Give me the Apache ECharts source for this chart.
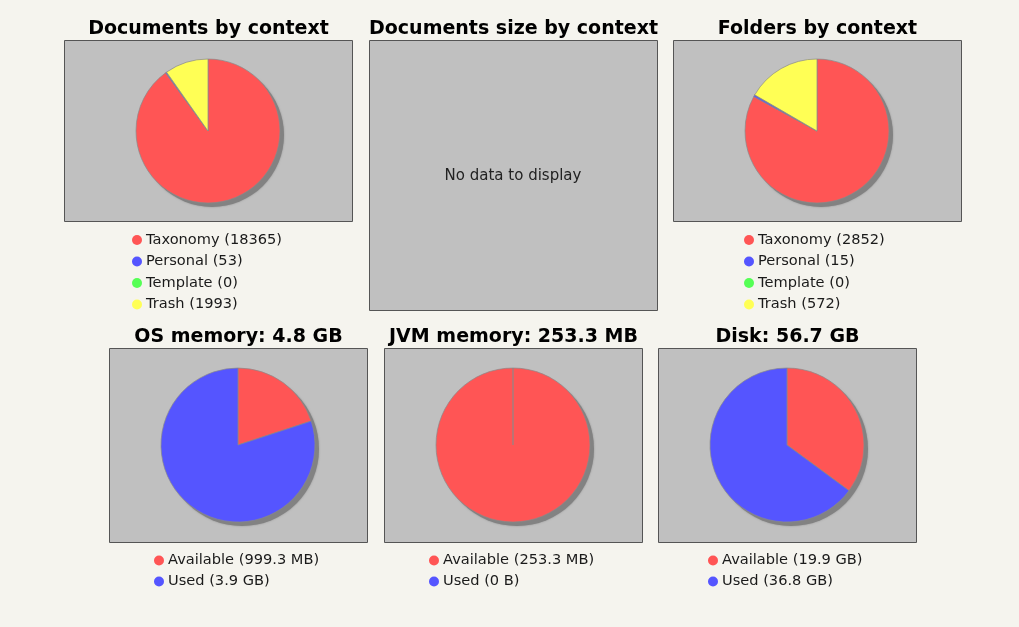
<!DOCTYPE html>
<html>
<head>
<meta charset="utf-8">
<title>Repository statistics</title>
<script src="https://cdn.jsdelivr.net/npm/echarts@6/dist/echarts.min.js"></script>
<style>
  html, body { margin: 0; padding: 0; background: #f5f4ee; }
  #chart { width: 1019px; height: 627px; }
</style>
</head>
<body>
<div id="chart"></div>
<script>
// Content statistics per context
const contextNames = ['Taxonomy', 'Personal', 'Template', 'Trash'];
const documentsByContext = [18365, 53, 0, 1993];
const documentsSizeByContext = [];            // nothing recorded
const foldersByContext = [2852, 15, 0, 572];

// Resource usage, in megabytes
const memoryNames = ['Available', 'Used'];
const osMemoryMB = [999.3, 4003.8];
const jvmMemoryMB = [253.3, 0];
const diskMB = [20377.6, 37683.2];

const contextColors = ['#ff5555', '#5555ff', '#55ff55', '#ffff55'];
const memoryColors = ['#ff5555', '#5555ff'];

const FONT = '"DejaVu Sans", "Liberation Sans", sans-serif';

// One decimal, truncated
function trunc1(x) { return (Math.floor(x * 10 + 1e-6) / 10).toFixed(1); }
function formatSize(mb) {
  if (mb <= 0) return '0 B';
  if (mb >= 1024) return trunc1(mb / 1024) + ' GB';
  return trunc1(mb) + ' MB';
}
function sum(arr) { return arr.reduce((a, b) => a + b, 0); }

// Panel layout: frame, pie centre and radius, legend anchor
const panels = [
  { title: 'Documents by context', names: contextNames, values: documentsByContext, colors: contextColors,
    fmt: v => String(v), box: [64.5, 40.5, 288, 181], center: [208, 131], r: 72, legend: [132, 232], gap: 5.5 },
  { title: 'Documents size by context', names: contextNames, values: documentsSizeByContext, colors: contextColors,
    fmt: formatSize, box: [369.5, 40.5, 288, 270], center: [513, 175], r: 72, legend: null },
  { title: 'Folders by context', names: contextNames, values: foldersByContext, colors: contextColors,
    fmt: v => String(v), box: [673.5, 40.5, 288, 181], center: [817, 131], r: 72, legend: [744, 232], gap: 5.5 },
  { title: 'OS memory: ' + formatSize(sum(osMemoryMB)), names: memoryNames, values: osMemoryMB, colors: memoryColors,
    fmt: formatSize, box: [109.5, 348.5, 258, 194], center: [238, 445], r: 77, legend: [154, 552.5], gap: 5 },
  { title: 'JVM memory: ' + formatSize(sum(jvmMemoryMB)), names: memoryNames, values: jvmMemoryMB, colors: memoryColors,
    fmt: formatSize, box: [384.5, 348.5, 258, 194], center: [513, 445], r: 77, legend: [429, 552.5], gap: 5 },
  { title: 'Disk: ' + formatSize(sum(diskMB)), names: memoryNames, values: diskMB, colors: memoryColors,
    fmt: formatSize, box: [658.5, 348.5, 258, 194], center: [787, 445], r: 77, legend: [708, 552.5], gap: 5 }
];

const titles = [];
const legends = [];
const series = [];
const graphics = [];

panels.forEach((p, i) => {
  const [bx, by, bw, bh] = p.box;
  titles.push({
    text: p.title, left: bx + bw / 2, top: by - 20.5, textAlign: 'center', padding: 0,
    textStyle: { fontFamily: FONT, fontSize: 19, fontWeight: 'bold', color: '#000' }
  });
  graphics.push({
    type: 'rect', z: -10, silent: true,
    shape: { x: bx, y: by, width: bw, height: bh },
    style: { fill: '#c0c0c0', stroke: '#555555', lineWidth: 1 }
  });

  const hasData = sum(p.values) > 0;
  if (!hasData) {
    titles.push({
      text: 'No data to display', left: p.center[0], top: p.center[1] - 6, textAlign: 'center', padding: 0,
      textStyle: { fontFamily: FONT, fontSize: 15, fontWeight: 'normal', color: '#222' }
    });
    return;
  }

  // drop shadow behind the pie
  series.push({
    type: 'pie', silent: true, z: 1, animation: false, legendHoverLink: false,
    center: [p.center[0] + 4, p.center[1] + 4], radius: p.r,
    label: { show: false }, labelLine: { show: false },
    itemStyle: { color: '#828282', shadowBlur: 2, shadowColor: 'rgba(110,110,110,0.6)' },
    data: [{ value: 1, name: '' }]
  });

  series.push({
    type: 'pie', name: p.title, z: 2, animation: false, silent: true,
    center: p.center, radius: p.r, startAngle: 90, clockwise: true,
    minAngle: 0, avoidLabelOverlap: false, stillShowZeroSum: true,
    label: { show: false }, labelLine: { show: false },
    itemStyle: { borderColor: '#8a8a8a', borderWidth: 0.7 },
    emphasis: { disabled: true },
    data: p.names.map((n, k) => ({ name: n, value: p.values[k], itemStyle: { color: p.colors[k] } }))
  });

  if (p.legend) {
    const vals = p.values, fmt = p.fmt, names = p.names;
    legends.push({
      orient: 'vertical', left: p.legend[0], top: p.legend[1], padding: 0,
      itemGap: p.gap, itemWidth: 10, itemHeight: 10, icon: 'circle',
      selectedMode: false,
      itemStyle: { borderWidth: 0 },
      data: names.slice(),
      formatter: name => name + ' (' + fmt(vals[names.indexOf(name)]) + ')',
      textStyle: { fontFamily: FONT, fontSize: 14.6, lineHeight: 16, color: '#1a1a1a', padding: [0, 0, 0, -1] }
    });
  }
});

const chart = echarts.init(document.getElementById('chart'), null, { renderer: 'canvas' });
chart.setOption({
  backgroundColor: '#f5f4ee',
  animation: false,
  title: titles,
  legend: legends,
  graphic: graphics,
  series: series
});
</script>
</body>
</html>
